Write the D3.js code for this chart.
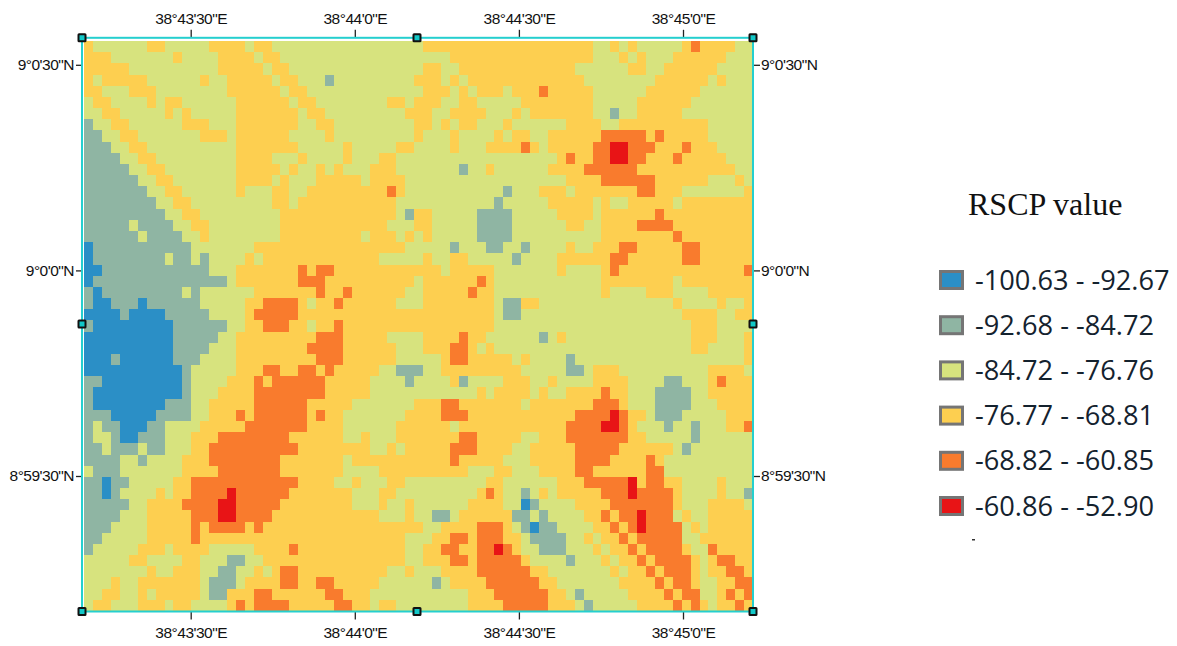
<!DOCTYPE html>
<html><head><meta charset="utf-8">
<script src="https://cdn.jsdelivr.net/npm/d3@7/dist/d3.min.js"></script>
<style>html,body{margin:0;background:#fff}svg{display:block}</style></head>
<body><svg id="c" width="1177" height="646"></svg>
<script>
const classLabels=["-100.63 - -92.67","-92.68 - -84.72","-84.72 - -76.76","-76.77 - -68.81","-68.82 - -60.85","-60.86 - -52.90"];
const classColors=["#2b8fc6","#8fb5a3","#d7e37e","#fdcf50","#f97b2d","#e81416"];
const legendTitle="RSCP value";
const lonTicks=[38*3600+43*60+30,38*3600+44*60,38*3600+44*60+30,38*3600+45*60];
const latTicks=[9*3600+30,9*3600,8*3600+59*60+30];
const nCols=75;
// each row: column:class change points, read from the raster
const rasterRows=[
"0:3,1:2,7:3,9:2,14:3,18:2,19:3,21:2,38:3,57:2,59:3,60:2,61:3,62:2,67:3,68:4,69:3,73:2",
"0:3,3:2,10:3,11:2,15:3,19:2,20:3,22:2,41:3,57:2,60:3,61:2,62:3,63:2,66:3,72:2",
"0:3,5:2,15:3,20:2,21:3,23:2,38:3,40:2,42:3,55:2,61:3,63:2,65:3,71:2",
"0:3,1:2,2:3,7:2,13:3,14:2,16:3,21:2,22:3,24:2,27:1,28:2,37:3,40:2,41:3,42:2,43:3,56:2,64:3,70:2,71:3,72:2",
"0:3,2:2,5:3,8:2,16:3,22:2,23:3,25:2,38:3,41:2,42:3,43:2,44:3,47:2,48:3,51:4,52:3,57:2,63:3,69:2",
"0:2,1:3,3:2,7:3,8:2,9:3,11:2,17:3,23:2,24:3,26:2,34:3,36:2,37:3,40:2,42:3,44:2,49:3,57:2,62:3,68:2",
"0:2,2:3,4:2,9:3,10:2,11:3,12:2,17:3,24:2,25:3,27:2,36:3,39:2,41:3,45:2,48:3,49:2,50:3,57:2,59:1,60:2,62:3,67:2",
"0:1,1:2,3:3,5:2,11:3,14:2,17:3,24:2,26:3,28:2,37:3,39:2,40:3,41:2,42:3,44:2,47:3,48:2,54:3,58:2,60:3,70:2",
"0:1,2:2,4:3,6:2,13:3,16:2,17:3,23:2,27:3,28:2,37:3,38:2,41:3,42:2,46:3,47:2,48:3,50:2,52:3,58:4,63:3,64:4,65:3,70:2",
"0:1,3:2,5:3,7:2,17:3,24:2,29:3,30:2,35:3,37:2,41:3,42:2,45:3,49:4,50:3,51:2,52:3,57:4,59:5,61:4,64:3,67:4,68:3,71:2",
"0:1,4:2,6:3,8:2,17:3,21:2,24:3,25:2,29:3,30:2,33:3,35:2,53:3,54:4,55:3,57:4,59:5,61:4,63:3,66:4,67:3,72:2",
"0:1,5:2,7:3,9:2,17:3,22:2,23:3,24:2,26:3,27:2,28:3,29:2,32:3,35:2,42:1,43:2,45:3,46:2,52:3,56:4,62:3,73:2",
"0:1,6:2,8:3,10:2,17:3,21:2,22:3,23:2,26:3,31:2,32:3,36:2,54:3,58:4,64:3,70:2,73:3,74:2",
"0:1,7:2,9:3,11:2,17:3,18:2,21:3,23:2,25:3,34:4,35:3,36:2,47:1,48:2,51:3,54:2,55:3,62:4,64:3,67:2,74:3",
"0:1,8:2,10:3,12:2,21:3,23:2,24:3,35:2,46:1,47:2,52:3,57:2,58:3,59:2,61:3,66:2,67:3",
"0:1,9:2,11:3,13:2,22:3,35:2,36:1,37:3,39:2,44:1,48:2,53:3,57:2,58:3,64:4,65:3",
"0:1,5:2,6:1,10:2,12:3,14:2,22:3,34:2,37:3,39:2,44:1,48:2,54:3,56:2,58:3,62:4,66:3",
"0:1,6:2,7:1,11:2,13:3,14:2,22:3,31:2,32:3,35:2,36:3,37:2,38:3,39:2,44:1,48:2,58:3,66:4,67:3",
"0:0,1:1,12:2,19:3,36:2,41:1,42:2,45:1,47:2,49:1,50:2,54:3,55:2,57:3,60:4,62:3,67:4,69:3",
"0:0,1:1,9:2,10:1,12:2,13:1,14:2,18:3,19:2,20:3,33:2,38:3,39:2,41:3,43:2,48:1,49:2,53:3,59:4,61:3,67:4,69:3",
"0:0,2:1,14:2,17:3,24:4,25:3,26:4,28:3,40:2,41:3,46:2,53:3,54:2,58:3,59:4,60:3,74:4",
"0:0,1:1,16:2,17:3,24:4,27:3,37:2,38:3,44:4,45:3,46:2,58:3,66:2,67:3",
"0:1,1:0,2:1,11:2,12:1,13:2,19:3,26:4,27:3,29:4,30:3,36:2,38:3,43:4,44:3,46:2,58:3,59:2,63:3,66:2,70:3",
"0:1,1:0,3:1,6:0,7:1,13:2,18:3,20:4,24:3,25:2,26:3,28:4,29:3,35:2,38:3,46:2,47:1,49:3,51:2,66:3,67:2,71:3,72:2,74:3",
"0:0,4:1,5:0,9:1,14:2,18:3,19:4,24:3,46:2,47:1,49:2,67:3,71:2,73:3",
"0:1,1:0,10:1,16:2,18:3,20:4,23:3,25:2,26:3,28:4,29:3,46:2,68:3,71:2",
"0:0,10:1,15:2,17:3,26:4,29:3,34:2,38:3,42:4,43:3,45:2,51:1,52:2,53:3,54:2,68:3,71:2,74:3",
"0:0,10:1,14:2,17:3,25:4,29:3,35:2,38:3,41:4,43:3,44:2,45:3,46:2,68:3,70:2,74:3",
"0:0,3:1,4:0,10:1,13:2,17:3,26:4,29:3,35:2,40:3,41:4,43:3,48:2,49:3,50:2,54:1,55:2,74:3",
"0:0,11:1,12:2,17:3,20:4,22:3,24:4,26:3,27:4,28:3,33:2,35:1,38:2,40:3,49:2,54:1,56:2,57:3,60:2,70:3,74:2",
"0:1,2:0,11:1,12:2,16:3,19:4,20:3,21:4,27:3,32:2,36:1,37:2,41:3,42:1,43:2,47:3,50:2,52:3,53:2,57:3,61:2,65:1,67:2,70:3,71:4,72:3",
"0:1,1:0,11:1,12:2,15:3,19:4,27:3,32:2,44:3,45:2,46:3,50:2,51:3,52:2,54:3,58:4,59:3,61:2,64:1,68:2,70:3",
"0:1,1:0,9:1,12:2,14:3,19:4,25:3,30:2,37:3,40:4,42:3,49:2,50:3,57:4,60:3,61:2,64:1,68:2,71:3",
"0:1,3:0,8:1,12:2,14:3,17:4,18:3,19:4,25:3,26:4,27:3,29:2,36:3,40:4,43:3,55:4,59:5,60:4,61:3,63:2,64:1,67:2,72:3",
"0:1,1:2,2:1,4:0,7:1,9:2,13:3,18:4,25:3,29:2,35:3,41:2,42:3,54:4,58:5,60:4,61:3,62:2,65:1,66:2,68:1,69:2,72:3,74:4",
"0:1,1:2,3:1,4:0,6:1,9:2,12:3,15:4,23:3,29:2,31:3,32:2,35:3,42:4,44:3,49:2,51:3,54:4,61:3,63:2,68:1,69:2",
"0:1,2:2,3:1,6:2,7:1,9:2,12:3,14:4,24:3,32:2,34:3,35:2,36:3,41:4,44:3,48:2,50:3,55:4,60:3,66:2,67:1,68:2",
"0:1,4:2,6:1,7:2,11:3,14:4,22:3,29:2,30:3,41:4,42:3,47:2,50:3,55:4,59:3,63:4,64:3,65:2",
"0:2,1:1,4:2,11:3,15:4,22:3,29:2,33:3,43:2,46:3,48:2,51:3,55:4,57:3,63:4,65:2",
"0:1,2:0,3:1,5:2,10:3,12:4,24:3,28:2,30:3,31:2,34:3,36:2,45:3,47:2,53:3,56:4,61:5,62:3,63:4,65:3,67:2,71:3,72:2",
"0:1,2:0,3:1,4:2,8:3,9:2,10:3,12:4,16:5,17:4,23:3,30:2,33:3,35:2,44:3,45:4,46:3,47:2,49:1,50:2,51:3,52:2,53:3,58:4,61:5,62:4,66:3,67:2,71:3,72:2,74:1",
"0:1,5:2,7:3,11:4,15:5,17:4,22:3,30:2,33:3,34:2,36:3,37:2,43:3,47:2,49:0,50:1,51:2,55:3,59:4,66:3,67:2,70:3,74:2",
"0:1,4:2,7:3,12:4,15:5,17:4,21:3,33:2,36:3,37:2,39:1,41:2,42:3,48:1,50:2,51:1,52:2,56:3,58:4,59:3,60:4,62:5,63:4,66:2,67:3,68:2,70:3",
"0:1,3:2,7:3,12:4,13:3,14:4,18:3,19:4,20:3,38:2,40:3,44:4,47:3,48:2,49:1,50:0,51:1,53:2,57:3,59:4,60:3,61:4,62:5,63:4,67:2,68:3,69:2,70:3",
"0:1,2:2,7:3,12:4,13:3,36:2,39:3,41:4,43:3,44:4,47:3,49:2,50:1,54:2,56:3,57:2,58:3,60:4,61:3,62:4,67:2,69:3",
"0:1,1:2,6:3,9:2,10:3,14:2,19:3,23:4,24:3,36:2,38:3,40:4,42:3,44:4,46:5,47:4,48:3,49:2,51:1,54:2,57:3,58:2,59:3,61:4,62:3,63:4,67:3,68:2,70:4,71:3",
"0:2,5:3,7:2,11:3,13:2,16:1,18:2,20:3,36:2,38:3,41:4,43:3,44:4,49:3,50:2,54:1,55:2,58:3,59:2,60:3,62:4,63:3,64:4,68:3,69:2,70:3,71:4,73:3",
"0:2,7:3,8:2,10:3,13:2,15:1,17:2,19:3,20:2,21:3,22:4,24:3,34:2,36:3,37:2,40:3,44:4,50:3,52:2,59:3,60:2,61:3,63:4,64:3,65:4,68:3,69:2,70:3,72:4,74:3",
"0:2,3:3,4:2,6:3,13:2,14:1,17:2,18:3,22:4,24:3,26:4,28:3,33:2,39:1,40:2,41:3,45:4,51:3,53:2,60:3,64:4,65:3,66:4,68:3,69:2,71:3,73:4",
"0:2,2:3,4:2,6:3,7:2,8:3,13:2,14:1,16:3,19:4,21:3,27:4,29:3,32:2,43:3,46:4,52:3,54:2,55:1,56:2,61:3,65:4,66:3,67:4,69:2,71:3,72:4,73:3,74:4",
"0:2,1:3,3:2,6:3,9:2,10:3,12:2,16:3,17:4,18:3,19:4,23:3,28:4,30:3,32:2,33:3,35:2,43:3,47:4,52:3,55:2,56:1,57:2,62:3,66:4,67:3,68:4,69:3,70:2,71:3,73:4,74:3"
];
function decodeRow(s){
  const stops=s.split(",").map(p=>p.split(":").map(Number));
  return d3.range(nCols).map(c=>{let v=stops[0][1];for(const [k,l] of stops){if(k<=c)v=l;else break;}return v;});
}
const grid=rasterRows.map(decodeRow);
const svg=d3.select("#c");
const frame={l:82,r:753,t:37.8,b:611.5};
const colX=d3.scaleBand().domain(d3.range(nCols)).range([84.3,753]);
const rowY=d3.scaleBand().domain(d3.range(grid.length)).range([41,611]);
const color=d3.scaleOrdinal().domain(d3.range(6)).range(classColors);
const lonX=d3.scaleLinear().domain([lonTicks[0],lonTicks[3]]).range([190.7,683]);
const latY=d3.scaleLinear().domain([latTicks[0],latTicks[2]]).range([64.8,476]);
svg.append("g").attr("shape-rendering","crispEdges").selectAll("g").data(grid).join("g")
 .attr("transform",(d,i)=>`translate(0,${rowY(i)})`)
 .selectAll("rect").data(d=>d).join("rect")
 .attr("x",(d,i)=>colX(i)).attr("y",0).attr("width",colX.bandwidth()+.5).attr("height",rowY.bandwidth()+.5)
 .attr("fill",d=>color(d));
const dms=(s,h)=>{const D=Math.floor(s/3600),M=Math.floor((s-D*3600)/60),S=s-D*3600-M*60;return `${D}°${M}'${S}"${h}`;};
function styleAxis(g){g.select(".domain").remove();g.selectAll("line").attr("stroke","#222").attr("stroke-width",1.3);g.selectAll("text").attr("font-family","Liberation Sans").attr("font-size",15.5).attr("letter-spacing",-0.5).attr("fill","#111");}
svg.append("g").attr("transform",`translate(0,${frame.t})`).call(d3.axisTop(lonX).tickValues(lonTicks).tickFormat(d=>dms(d,"E")).tickSize(8).tickPadding(5.5)).call(styleAxis);
svg.append("g").attr("transform",`translate(0,${frame.b})`).call(d3.axisBottom(lonX).tickValues(lonTicks).tickFormat(d=>dms(d,"E")).tickSize(8).tickPadding(7.5)).call(styleAxis);
svg.append("g").attr("transform",`translate(${frame.l},0)`).call(d3.axisLeft(latY).tickValues(latTicks).tickFormat(d=>dms(d,"N")).tickSize(6).tickPadding(2)).call(styleAxis);
svg.append("g").attr("transform",`translate(${frame.r},0)`).call(d3.axisRight(latY).tickValues(latTicks).tickFormat(d=>dms(d,"N")).tickSize(7).tickPadding(1)).call(styleAxis);
svg.append("rect").attr("x",frame.l).attr("y",frame.t).attr("width",frame.r-frame.l).attr("height",frame.b-frame.t).attr("fill","none").attr("stroke","#25cfcf").attr("stroke-width",2);
const hx=[frame.l,417,frame.r],hy=[frame.t,324,frame.b];
const handles=d3.cross(hx,hy).filter(([x,y])=>!(x===hx[1]&&y===hy[1]));
svg.append("g").selectAll("rect").data(handles).join("rect").attr("x",d=>d[0]-3.5).attr("y",d=>d[1]-3.5).attr("width",7).attr("height",7).attr("rx",.5).attr("fill","#12c8c8").attr("stroke","#111").attr("stroke-width",2);
svg.append("text").attr("x",968).attr("y",215).attr("font-family","Liberation Serif").attr("font-size",32).attr("fill","#111").text(legendTitle);
const legY=d3.scalePoint().domain(d3.range(6)).range([280,506]);
const leg=svg.append("g").selectAll("g").data(classLabels).join("g").attr("transform",(d,i)=>`translate(0,${legY(i)})`);
leg.append("rect").attr("x",940.5).attr("y",-8.5).attr("width",22).attr("height",17).attr("fill",(d,i)=>classColors[i]).attr("stroke","#757575").attr("stroke-width",3);
leg.append("text").attr("x",975).attr("y",9.5).attr("font-family","Open Sans").attr("font-size",27.2).attr("fill","#14222e").text(d=>d);
svg.append("rect").attr("x",972).attr("y",539).attr("width",3).attr("height",1.5).attr("fill","#333");
</script></body></html>
